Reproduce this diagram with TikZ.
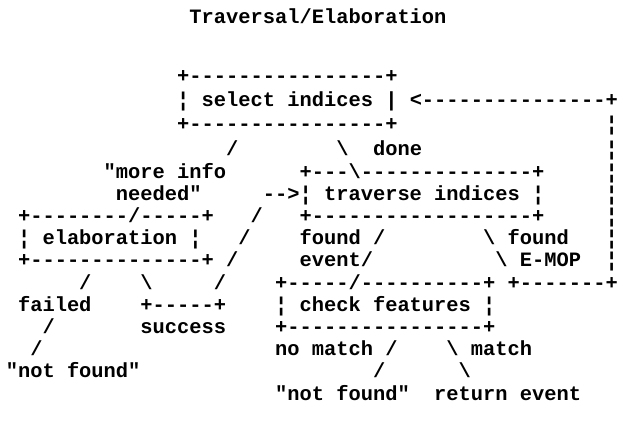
\documentclass[tikz,border=0pt]{standalone}
\usepackage{fontspec}
\setmonofont{Liberation Mono}
\tikzset{
  t/.style={font=\ttfamily\bfseries\fontsize{20.4pt}{20.4pt}\selectfont, anchor=base west, inner sep=0pt, outer sep=0pt, text=black}
}
\begin{document}
\begin{tikzpicture}[x=12.24pt, y=-1pt]
\useasboundingbox[fill=white] (-0.474,0) rectangle (50.34,427);
% title
\node[t] (title) at (15,24) {Traversal/Elaboration};
% select indices box
\node[t] (sTop) at (14,82) {+----------------+};
\node[t] (sMid) at (14,106) {¦ select indices |};
\node[t] (back) at (33,106) {<---------------+};
\node[t] (sBot) at (14,130) {+----------------+};
\node[t] (v2) at (49,130) {¦};
% row 3
\node[t] (d1) at (18,155) {/};
\node[t] (d2) at (27,155) {\textbackslash};
\node[t] (done) at (30,155) {done};
\node[t] (v3) at (49,155) {¦};
% row 4
\node[t] (more) at (8,178) {"more info};
\node[t] (tTop) at (24,178) {+---\textbackslash--------------+};
\node[t] (v4) at (49,178) {¦};
% row 5
\node[t] (need) at (9,200) {needed"};
\node[t] (tMid) at (21,200) {-->¦ traverse indices ¦};
\node[t] (v5) at (49,200) {¦};
% row 6
\node[t] (eTop) at (1,222) {+--------/-----+};
\node[t] (d3) at (20,222) {/};
\node[t] (tBot) at (24,222) {+------------------+};
\node[t] (v6) at (49,222) {¦};
% row 7
\node[t] (eMid) at (1,244) {¦ elaboration ¦};
\node[t] (d4) at (19,244) {/};
\node[t] (fe) at (24,244) {found /};
\node[t] (fm) at (39,244) {\textbackslash{} found};
\node[t] (v7) at (49,244) {¦};
% row 8
\node[t] (eBot) at (1,266) {+--------------+};
\node[t] (d5) at (18,266) {/};
\node[t] (ev) at (24,266) {event/};
\node[t] (em) at (40,266) {\textbackslash{} E-MOP};
\node[t] (v8) at (49,266) {¦};
% row 9
\node[t] (d6) at (6,289) {/};
\node[t] (d7) at (11,289) {\textbackslash};
\node[t] (d8) at (17,289) {/};
\node[t] (cTop) at (22,289) {+-----/----------+};
\node[t] (ret) at (41,289) {+-------+};
% row 10
\node[t] (failed) at (1,311) {failed};
\node[t] (sBox) at (11,311) {+-----+};
\node[t] (cMid) at (22,311) {¦ check features ¦};
% row 11
\node[t] (d9) at (3,333) {/};
\node[t] (succ) at (11,333) {success};
\node[t] (cBot) at (22,333) {+----------------+};
% row 12
\node[t] (d10) at (2,355) {/};
\node[t] (nm) at (22,355) {no match /};
\node[t] (mt) at (36,355) {\textbackslash{} match};
% row 13
\node[t] (nf1) at (0,377) {"not found"};
\node[t] (d11) at (30,377) {/};
\node[t] (d12) at (37,377) {\textbackslash};
% row 14
\node[t] (nf2) at (22,400) {"not found"};
\node[t] (re) at (35,400) {return event};
\end{tikzpicture}
\end{document}
